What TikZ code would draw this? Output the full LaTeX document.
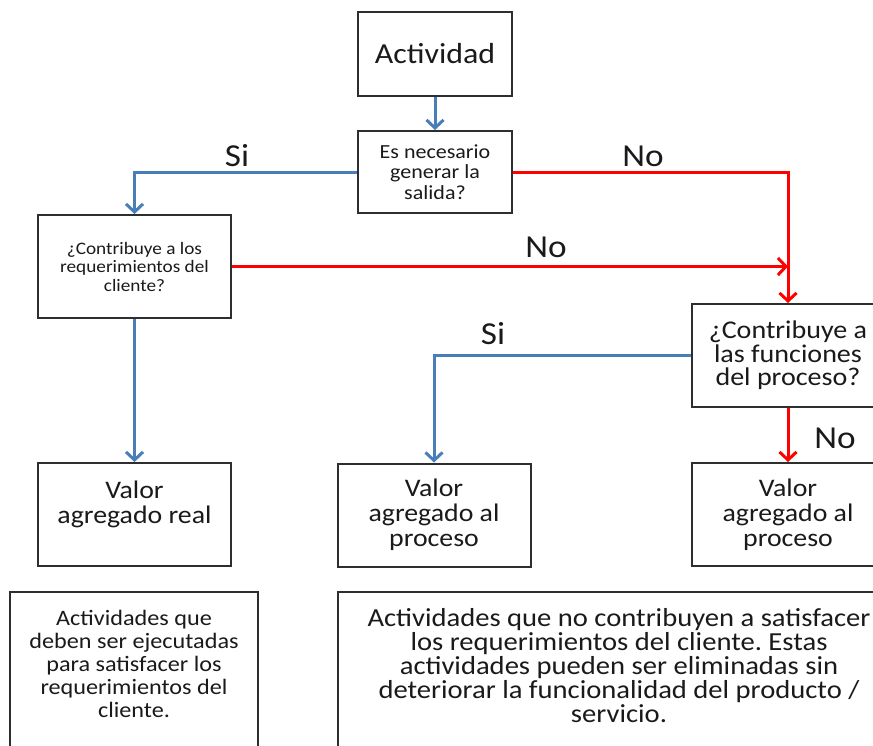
\documentclass[tikz,border=0pt]{standalone}
\usepackage{fontspec}
\setmainfont{Carlito}[FakeStretch=1.1]
\usetikzlibrary{arrows.meta}
\definecolor{flowblue}{HTML}{4A7EBB}
\definecolor{flowred}{HTML}{FF0000}
\definecolor{boxline}{HTML}{2E2E2E}
\definecolor{inktext}{HTML}{1A1A1A}
\frenchspacing

\begin{document}
\begin{tikzpicture}[x=1pt,y=-1pt,
  box/.style={draw=boxline, line width=2pt, fill=white, align=center,
    inner sep=0pt, text=inktext, minimum width=193pt, minimum height=103pt},
  notebox/.style={draw=boxline, line width=2pt, fill=white, inner sep=0pt},
  notetext/.style={align=center, inner sep=0pt, text=inktext, anchor=north},
  flowtip/.style={-{Straight Barb[length=8pt,width=17pt,line width=3pt]}},
  yes/.style={draw=flowblue, line width=3pt, flowtip},
  no/.style={draw=flowred, line width=3pt, flowtip},
  lbl/.style={font=\fontsize{32}{36}\selectfont, text=inktext, inner sep=0pt}
]
\useasboundingbox (0,0) rectangle (873,745);
\clip (0,0) rectangle (873,745);

% decision and result boxes
\node[box, minimum width=154pt, minimum height=84pt,
  font=\fontsize{29}{34}\selectfont] (act) at (435,54) {Actividad};
\node[box, minimum width=154pt, minimum height=82pt,
  font=\fontsize{20}{20.5}\selectfont] (nec) at (435,172)
  {Es necesario\\generar la\\salida?};
\node[box, font=\fontsize{17.5}{18.5}\selectfont] (cli) at (134.5,266.5)
  {¿Contribuye a los\\requerimientos del\\cliente?};
\node[box, font=\fontsize{25.5}{23.5}\selectfont] (fun) at (788,355.5)
  {¿Contribuye a\\las funciones\\del proceso?};
\node[box, font=\fontsize{25.3}{25}\selectfont] (real) at (134.5,514.5)
  {Valor\\agregado real\\\mbox{}};
\node[box, font=\fontsize{25.3}{25}\selectfont] (proc) at (434,515)
  {Valor\\agregado al\\proceso};
\node[box, font=\fontsize{25.3}{25}\selectfont] (desp) at (788,514.5)
  {Valor\\agregado al\\proceso};

% description boxes along the bottom edge
\node[notebox, minimum width=248pt, minimum height=180pt] (nreal) at (134,682) {};
\node[notetext, font=\fontsize{22}{23}\selectfont] (treal) at (134,610)
  {Actividades que\\deben ser ejecutadas\\para satisfacer los\\requerimientos del\\cliente.};
\node[notebox, minimum width=562pt, minimum height=180pt] (nproc) at (619,682) {};
\node[notetext, font=\fontsize{26}{24}\selectfont] (tproc) at (619,608)
  {Actividades que no contribuyen a satisfacer\\los requerimientos del cliente. Estas\\actividades pueden ser eliminadas sin\\deteriorar la funcionalidad del producto /\\servicio.};

% connectors
\coordinate (merge) at (fun.north |- cli.east);
\draw[yes] (act) -- (nec);
\draw[yes] (nec.west) -| (cli.north);
\draw[no] (nec.east) -| (fun.north);
\draw[no] (cli.east) -- (merge);
\draw[yes] (cli) -- (real);
\draw[yes] (fun.west) -| (proc.north);
\draw[no] (fun) -- (desp);

% branch labels
\node[lbl] (si1) at (237,156) {Si};
\node[lbl] (no1) at (643,156) {No};
\node[lbl] (no2) at (546,247) {No};
\node[lbl] (si2) at (493,334) {Si};
\node[lbl] (no3) at (835,438) {No};
\end{tikzpicture}
\end{document}
